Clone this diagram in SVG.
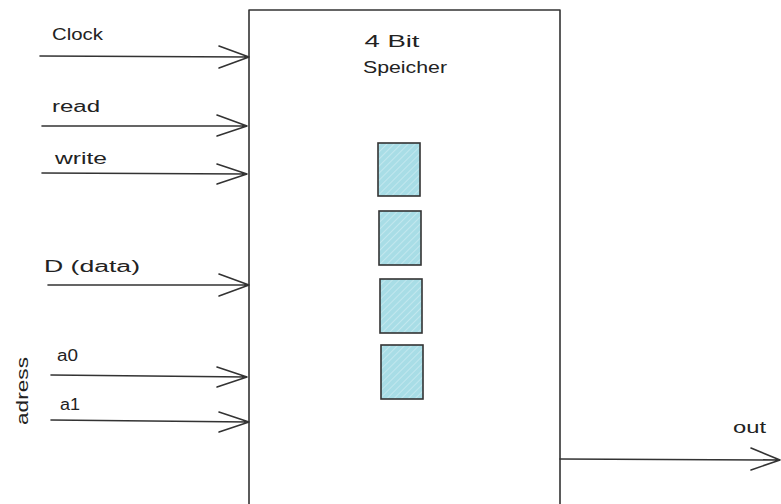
<svg xmlns="http://www.w3.org/2000/svg" width="781" height="504" viewBox="0 0 781 504">
<defs>
<pattern id="hatch" patternUnits="userSpaceOnUse" width="5" height="5" patternTransform="rotate(45)">
<rect width="5" height="5" fill="#a8dde6"/>
<line x1="0" y1="0" x2="0" y2="5" stroke="#d4eff4" stroke-width="1.2"/>
</pattern>
</defs>
<style>
.ln{stroke:#333;stroke-width:1.6;fill:none;stroke-linecap:round;stroke-linejoin:round}
.t{font-family:"Liberation Sans","DejaVu Sans",sans-serif;font-size:16px;fill:#222}
.cell{fill:url(#hatch);stroke:#333;stroke-width:1.6}
</style>
<rect width="781" height="504" fill="#fff"/>
<g id="memory">
<path class="ln" d="M249 10 L560 10 M249 10 L249 510 M560 10 L560 510"/>
<text class="t" x="392" y="47" text-anchor="middle" textLength="55" lengthAdjust="spacingAndGlyphs">4 Bit</text>
<text class="t" x="405" y="73" text-anchor="middle" textLength="84" lengthAdjust="spacingAndGlyphs">Speicher</text>
</g>
<g id="cell1"><rect class="cell" x="378" y="143" width="42" height="53"/></g>
<g id="cell2"><rect class="cell" x="379" y="211" width="42" height="54"/></g>
<g id="cell3"><rect class="cell" x="380" y="279" width="42" height="54"/></g>
<g id="cell4"><rect class="cell" x="381" y="345" width="42" height="54"/></g>
<g id="labels">
<text class="t" x="52" y="40" textLength="51" lengthAdjust="spacingAndGlyphs">Clock</text>
<text class="t" x="52" y="112" textLength="48" lengthAdjust="spacingAndGlyphs">read</text>
<text class="t" x="55" y="164" textLength="52" lengthAdjust="spacingAndGlyphs">write</text>
<text class="t" x="44" y="272" textLength="96" lengthAdjust="spacingAndGlyphs">D (data)</text>
<text class="t" x="57" y="361" textLength="21" lengthAdjust="spacingAndGlyphs">a0</text>
<text class="t" x="60" y="410" textLength="20" lengthAdjust="spacingAndGlyphs">a1</text>
<text class="t" x="733" y="433" textLength="33" lengthAdjust="spacingAndGlyphs">out</text>
<text class="t" transform="translate(28 425) rotate(-90)" textLength="68" lengthAdjust="spacingAndGlyphs">adress</text>
</g>
<g id="connectors">
<path class="ln" d="M40 56 L249 57 M219 46 L249 57 L219 68"/>
<path class="ln" d="M42 126 L247 126 M217 115 L247 126 L217 136"/>
<path class="ln" d="M42 173 L247 174 M217 164 L247 174 L217 184"/>
<path class="ln" d="M48 285 L249 285 M219 274 L249 285 L219 296"/>
<path class="ln" d="M51 375 L247 377 M217 367 L247 377 L217 387"/>
<path class="ln" d="M51 420 L249 422 M219 412 L249 422 L219 432"/>
<path class="ln" d="M560 459 L780 460 M751 448 L780 460 L751 470"/>
</g>
</svg>
